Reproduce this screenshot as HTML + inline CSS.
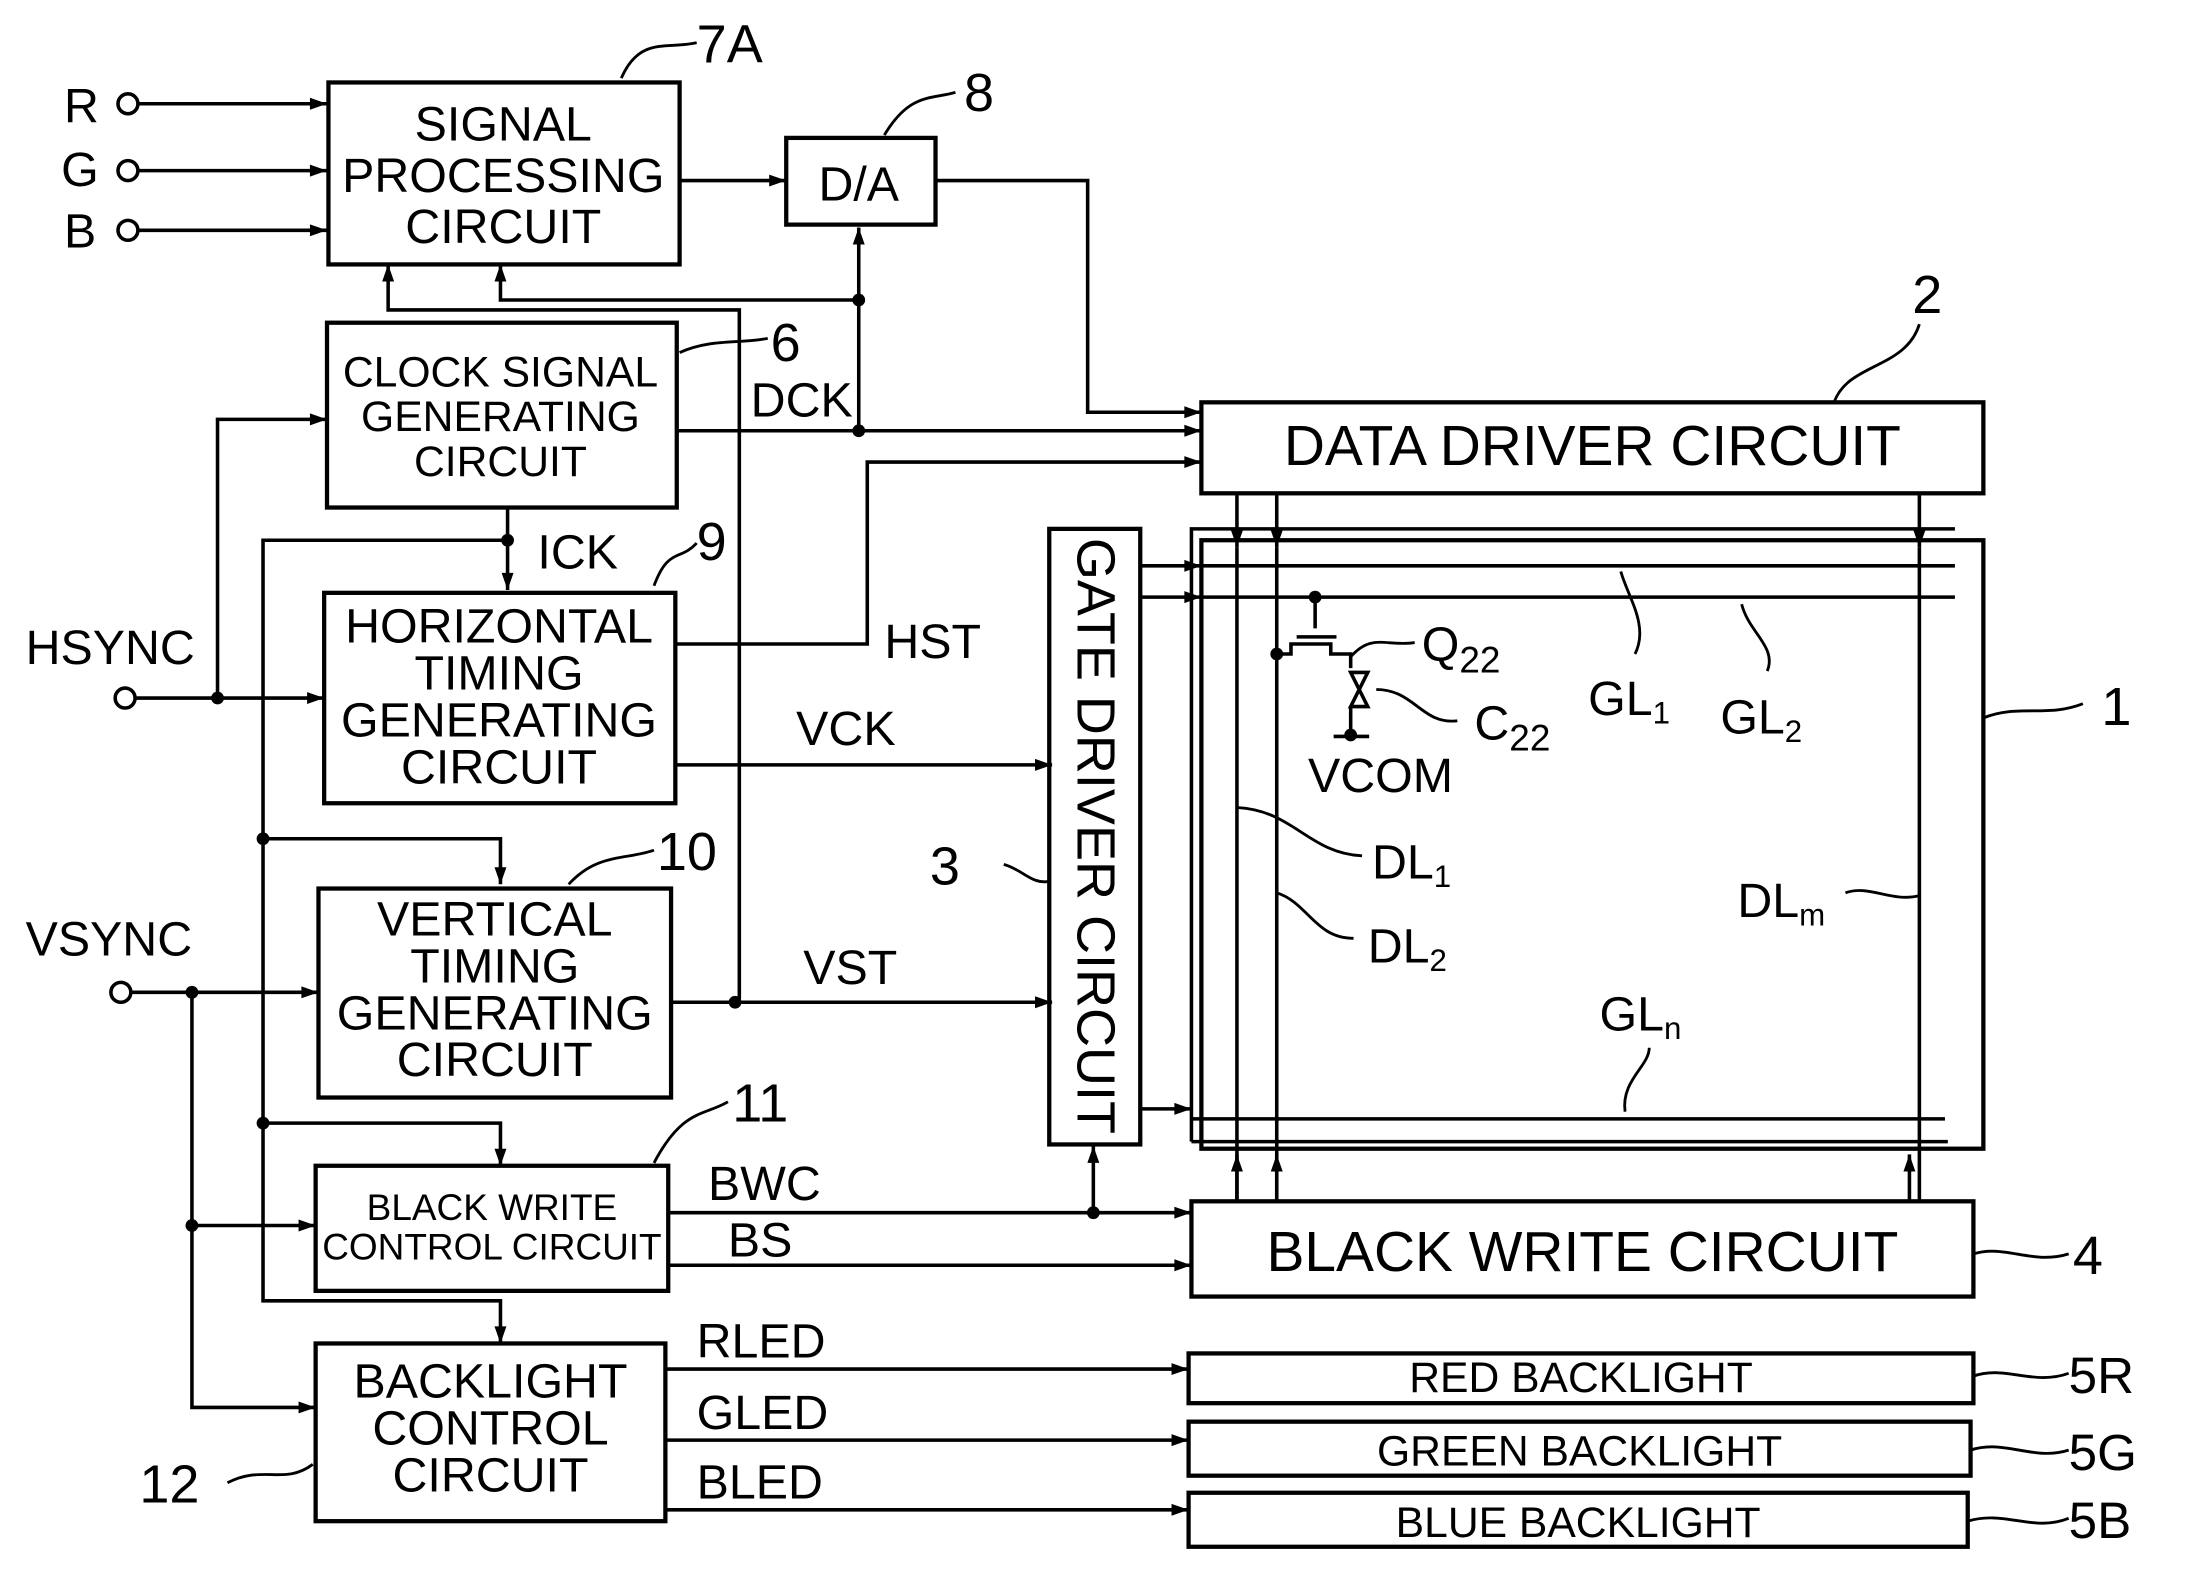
<!DOCTYPE html>
<html><head><meta charset="utf-8"><style>
html,body{margin:0;padding:0;background:#fff;}
svg{display:block;}
text{font-family:"Liberation Sans",sans-serif;fill:#000;}
</style></head><body>
<svg width="2208" height="1588" viewBox="0 0 1553 1117" preserveAspectRatio="none" xmlns="http://www.w3.org/2000/svg">
<defs>
<marker id="a" viewBox="0 0 10 10" refX="10" refY="5" markerWidth="7" markerHeight="7" orient="auto" markerUnits="userSpaceOnUse"><path d="M0,1 L10,5 L0,9 Z" fill="#000"/></marker>
<marker id="b" viewBox="0 0 10 10" refX="10" refY="5" markerWidth="20" markerHeight="12" orient="auto" markerUnits="userSpaceOnUse"><path d="M0,1.5 L10,5 L0,8.5 Z" fill="#000"/></marker>
</defs>
<g fill="none" stroke="#000" stroke-width="2.5">
<!-- boxes -->
<rect x="231" y="58" width="247" height="128" stroke-width="3"/>
<rect x="553" y="97" width="105" height="61" stroke-width="3"/>
<rect x="230" y="227" width="246" height="130" stroke-width="3"/>
<rect x="228" y="417" width="247" height="148" stroke-width="3"/>
<rect x="224" y="625" width="248" height="147" stroke-width="3"/>
<rect x="222" y="820" width="248" height="88" stroke-width="3"/>
<rect x="222" y="945" width="246" height="125" stroke-width="3"/>
<rect x="738" y="372" width="64" height="433" stroke-width="3"/>
<rect x="845" y="283" width="550" height="64" stroke-width="3"/>
<rect x="845" y="380" width="550" height="428" stroke-width="3"/>
<rect x="838" y="845" width="550" height="67" stroke-width="3"/>
<rect x="836" y="952" width="552" height="35" stroke-width="3"/>
<rect x="836" y="1000" width="550" height="38" stroke-width="3"/>
<rect x="836" y="1050" width="548" height="38" stroke-width="3"/>
<!-- inner frame -->
<path d="M838,803 L838,372 L1375,372"/>
<path d="M838,803 L1370,803"/>
<!-- RGB inputs -->
<circle cx="90" cy="73" r="7"/><circle cx="90" cy="120" r="7"/><circle cx="90" cy="162" r="7"/>
<path d="M97,73 H230" marker-end="url(#b)"/>
<path d="M97,120 H230" marker-end="url(#b)"/>
<path d="M97,162 H230" marker-end="url(#b)"/>
<path d="M478,127 H553" marker-end="url(#b)"/>
<path d="M658,127 H765 V290 H845" marker-end="url(#b)"/>
<!-- DCK -->
<path d="M476,303 H845" marker-end="url(#b)"/>
<path d="M604,303 V160" marker-end="url(#b)"/>
<path d="M604,211 H352 V186" marker-end="url(#b)"/>
<path d="M520,703 V218 H273 V186" marker-end="url(#b)"/>
<!-- HST -->
<path d="M476,453 H610 V325 H845" marker-end="url(#b)"/>
<!-- ICK / bus -->
<path d="M357,357 V415" marker-end="url(#b)"/>
<path d="M357,380 H185 V915 H352 V945" marker-end="url(#b)"/>
<path d="M185,590 H352 V622" marker-end="url(#b)"/>
<path d="M185,790 H352 V820" marker-end="url(#b)"/>
<!-- HSYNC -->
<circle cx="88" cy="491" r="7"/>
<path d="M95,491 H228" marker-end="url(#b)"/>
<path d="M153,491 V295 H230" marker-end="url(#b)"/>
<!-- VSYNC -->
<circle cx="85" cy="698" r="7"/>
<path d="M92,698 H224" marker-end="url(#b)"/>
<path d="M135,698 V990 H222" marker-end="url(#b)"/>
<path d="M135,862 H222" marker-end="url(#b)"/>
<!-- VCK VST -->
<path d="M476,538 H740" marker-end="url(#b)"/>
<path d="M472,705 H740" marker-end="url(#b)"/>
<!-- BWC BS -->
<path d="M470,853 H838" marker-end="url(#b)"/>
<path d="M769,853 V806" marker-end="url(#b)"/>
<path d="M470,890 H838" marker-end="url(#b)"/>
<!-- LEDs -->
<path d="M468,963 H836" marker-end="url(#b)"/>
<path d="M468,1013 H836" marker-end="url(#b)"/>
<path d="M468,1062 H836" marker-end="url(#b)"/>
<!-- gate lines -->
<path d="M802,398 H845" marker-end="url(#b)"/><path d="M845,398 H1375"/>
<path d="M802,420 H845" marker-end="url(#b)"/><path d="M845,420 H1375"/>
<path d="M802,780 H838" marker-end="url(#b)"/><path d="M838,787 H1368"/>
<!-- data lines -->
<path d="M870,347 V385" marker-end="url(#b)"/><path d="M870,385 V845"/>
<path d="M870,845 V812" marker-end="url(#b)"/>
<path d="M898,347 V385" marker-end="url(#b)"/><path d="M898,385 V845"/>
<path d="M898,845 V812" marker-end="url(#b)"/>
<path d="M1350,347 V385" marker-end="url(#b)"/><path d="M1350,385 V845"/>
<path d="M1343,845 V812" marker-end="url(#b)"/>
<!-- transistor -->
<path d="M925,420 V442 M912,448 H940 M898,460 H908 V453 H936 V460 H950 V470 M950,498 V517 M938,518 H963"/>
<path d="M950,473 L962,473 L950,497 L962,497 Z" stroke-width="2.5"/>
<!-- leaders -->
<path d="M437,55 C450,25 470,35 490,30" stroke-width="2"/>
<path d="M622,95 C640,65 655,70 672,65" stroke-width="2"/>
<path d="M478,248 C500,238 520,242 540,238" stroke-width="2"/>
<path d="M460,412 C470,385 478,395 490,382" stroke-width="2"/>
<path d="M400,622 C420,600 440,605 460,598" stroke-width="2"/>
<path d="M460,818 C480,780 495,785 512,775" stroke-width="2"/>
<path d="M160,1043 C185,1030 200,1045 220,1030" stroke-width="2"/>
<path d="M1290,283 C1300,255 1340,260 1350,228" stroke-width="2"/>
<path d="M1395,505 C1420,495 1440,505 1465,495" stroke-width="2"/>
<path d="M1388,882 C1410,875 1430,890 1455,882" stroke-width="2"/>
<path d="M1388,968 C1410,960 1430,975 1455,966" stroke-width="2"/>
<path d="M1386,1020 C1410,1012 1430,1028 1455,1020" stroke-width="2"/>
<path d="M1384,1070 C1410,1062 1430,1078 1455,1068" stroke-width="2"/>
<path d="M706,608 C720,612 725,622 738,620" stroke-width="2"/>
<path d="M950,462 C965,445 975,455 995,452" stroke-width="2"/>
<path d="M968,485 C995,485 1000,510 1025,507" stroke-width="2"/>
<path d="M1140,402 C1145,420 1160,440 1150,460" stroke-width="2"/>
<path d="M1225,425 C1230,445 1250,455 1243,472" stroke-width="2"/>
<path d="M870,568 C910,570 920,600 958,602" stroke-width="2"/>
<path d="M898,628 C920,635 925,660 952,660" stroke-width="2"/>
<path d="M1298,628 C1315,622 1330,635 1350,630" stroke-width="2"/>
<path d="M1143,782 C1140,760 1160,750 1160,737" stroke-width="2"/>
</g>
<g fill="#000">
<circle cx="604" cy="303" r="4.5"/><circle cx="604" cy="211" r="4.5"/>
<circle cx="357" cy="380" r="4.5"/><circle cx="185" cy="590" r="4.5"/><circle cx="185" cy="790" r="4.5"/>
<circle cx="153" cy="491" r="4.5"/><circle cx="135" cy="698" r="4.5"/><circle cx="135" cy="862" r="4.5"/>
<circle cx="517" cy="705" r="4.5"/><circle cx="769" cy="853" r="4.5"/>
<circle cx="925" cy="420" r="4.5"/><circle cx="898" cy="460" r="4.5"/><circle cx="950" cy="517" r="4.5"/>
</g>
<g font-size="34" text-anchor="middle">
<text x="354" y="99">SIGNAL</text><text x="354" y="135">PROCESSING</text><text x="354" y="171">CIRCUIT</text>
<text x="604" y="141">D/A</text>
<text x="352" y="272" font-size="30">CLOCK SIGNAL</text><text x="352" y="303" font-size="30">GENERATING</text><text x="352" y="335" font-size="30">CIRCUIT</text>
<text x="351" y="452">HORIZONTAL</text><text x="351" y="485">TIMING</text><text x="351" y="518">GENERATING</text><text x="351" y="551">CIRCUIT</text>
<text x="348" y="658">VERTICAL</text><text x="348" y="691">TIMING</text><text x="348" y="724">GENERATING</text><text x="348" y="757">CIRCUIT</text>
<text x="346" y="858" font-size="26">BLACK WRITE</text><text x="346" y="886" font-size="26">CONTROL CIRCUIT</text>
<text x="345" y="983">BACKLIGHT</text><text x="345" y="1016">CONTROL</text><text x="345" y="1049">CIRCUIT</text>
<text x="1120" y="327" font-size="40">DATA DRIVER CIRCUIT</text>
<text x="1113" y="894" font-size="40">BLACK WRITE CIRCUIT</text>
<text x="1112" y="979" font-size="30">RED BACKLIGHT</text>
<text x="1111" y="1031" font-size="30">GREEN BACKLIGHT</text>
<text x="1110" y="1081" font-size="30">BLUE BACKLIGHT</text>
<text transform="translate(758,588) rotate(90)" font-size="38">GATE DRIVER CIRCUIT</text>
</g>
<g font-size="34">
<text x="45" y="86">R</text><text x="43" y="131">G</text><text x="45" y="174">B</text>
<text x="490" y="44" font-size="38">7A</text><text x="678" y="78" font-size="38">8</text>
<text x="542" y="254" font-size="38">6</text><text x="528" y="293">DCK</text>
<text x="378" y="400">ICK</text><text x="490" y="394" font-size="38">9</text>
<text x="18" y="467">HSYNC</text><text x="622" y="463">HST</text>
<text x="560" y="524">VCK</text><text x="462" y="612" font-size="38">10</text>
<text x="18" y="672">VSYNC</text><text x="565" y="692">VST</text>
<text x="654" y="622" font-size="38">3</text>
<text x="515" y="789" font-size="38">11</text>
<text x="498" y="844">BWC</text><text x="512" y="884">BS</text>
<text x="490" y="955">RLED</text><text x="490" y="1005">GLED</text><text x="490" y="1054">BLED</text>
<text x="98" y="1057" font-size="38">12</text>
<text x="1345" y="220" font-size="38">2</text><text x="1478" y="510" font-size="38">1</text>
<text x="1458" y="896" font-size="38">4</text>
<text x="1455" y="980" font-size="36">5R</text><text x="1455" y="1034" font-size="36">5G</text><text x="1455" y="1082" font-size="36">5B</text>
<text x="1000" y="465">Q<tspan font-size="26" dy="8">22</tspan></text>
<text x="1037" y="520">C<tspan font-size="26" dy="8">22</tspan></text>
<text x="920" y="557">VCOM</text>
<text x="1117" y="503">GL<tspan font-size="22" dy="6">1</tspan></text>
<text x="1210" y="516">GL<tspan font-size="22" dy="6">2</tspan></text>
<text x="965" y="618">DL<tspan font-size="22" dy="6">1</tspan></text>
<text x="962" y="677">DL<tspan font-size="22" dy="6">2</tspan></text>
<text x="1222" y="645">DL<tspan font-size="22" dy="6">m</tspan></text>
<text x="1125" y="725">GL<tspan font-size="22" dy="6">n</tspan></text>
</g>
</svg>
</body></html>
